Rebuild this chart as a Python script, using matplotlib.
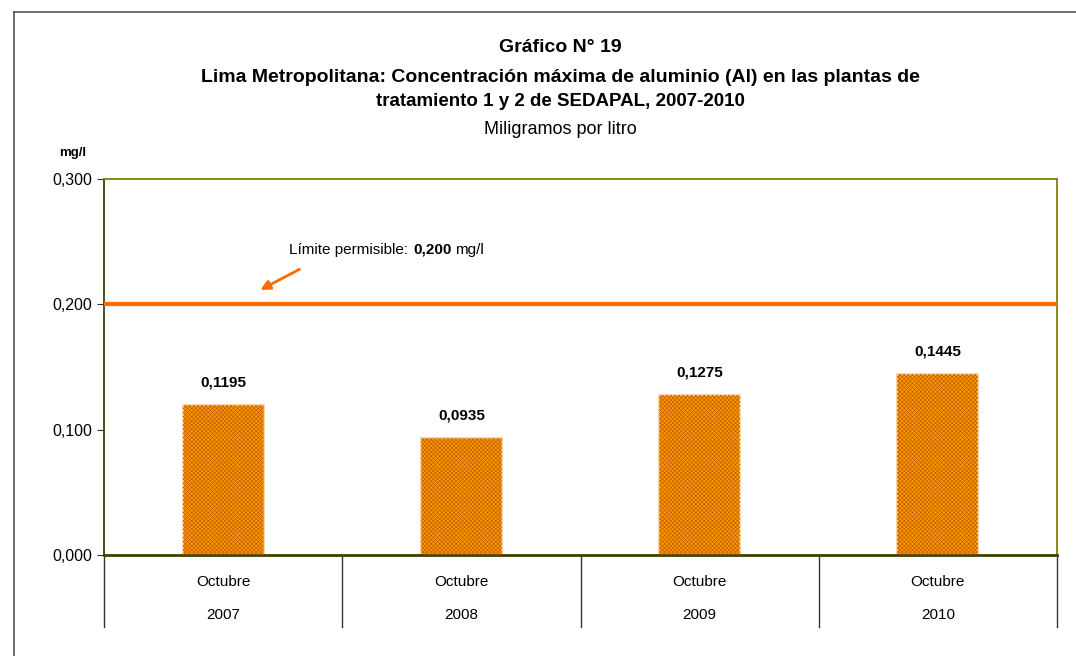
import matplotlib
matplotlib.use("Agg")
import matplotlib.pyplot as plt
from matplotlib.lines import Line2D

# Datos del gráfico
meses = ["Octubre", "Octubre", "Octubre", "Octubre"]
anios = ["2007", "2008", "2009", "2010"]
valores = [0.1195, 0.0935, 0.1275, 0.1445]
etiquetas = ["0,1195", "0,0935", "0,1275", "0,1445"]
limite = 0.200
yticks = [0.0, 0.1, 0.2, 0.3]
ytick_labels = ["0,000", "0,100", "0,200", "0,300"]

plt.rcParams['font.family'] = ['Liberation Sans', 'DejaVu Sans']
plt.rcParams['hatch.linewidth'] = 0.4

W, H = 1076, 656
fig = plt.figure(figsize=(W / 100, H / 100), dpi=100)
ax = fig.add_axes([104 / W, 1 - 555 / H, (1057 - 104) / W, (555 - 179) / H])

x = list(range(len(valores)))
ax.bar(x, valores, width=0.34, color='#FF9400', edgecolor='#FFCC99', linewidth=1.2, zorder=2)
ax.bar(x, valores, width=0.34, fill=False, hatch='xxxxxxxx', edgecolor='#B35C00', linewidth=0, zorder=3)

for xi, v, lab in zip(x, valores, etiquetas):
    ax.annotate(lab, (xi, v), xytext=(0, 11), textcoords='offset points',
                ha='center', va='bottom', fontsize=11, fontweight='bold')

# Línea del límite permisible
ax.axhline(limite, color='#FF6A00', linewidth=3, zorder=4)
ax.annotate('', xy=(0.146, 0.2105), xytext=(0.331, 0.229),
            arrowprops=dict(arrowstyle='-|>', color='#FF6A00', lw=2, mutation_scale=14))
yl = 1 - 250 / H
fig.text(289 / W, yl, 'Límite permisible:', fontsize=11, ha='left', va='center')
fig.text(413 / W, yl, '0,200', fontsize=11, fontweight='bold', ha='left', va='center')
fig.text(455 / W, yl, 'mg/l', fontsize=11, ha='left', va='center')

ax.set_xlim(-0.5, len(valores) - 0.5)
ax.set_ylim(0, 0.3)
ax.set_yticks(yticks)
ax.set_yticklabels(ytick_labels, fontsize=11.5)
ax.set_xticks([])
ax.tick_params(axis='y', length=5, color='#333333')

for s in ['top', 'right']:
    ax.spines[s].set_color('#808000')
    ax.spines[s].set_linewidth(1.3)
ax.spines['left'].set_color('#404000')
ax.spines['left'].set_linewidth(1.3)
ax.spines['bottom'].set_color('#404000')
ax.spines['bottom'].set_linewidth(2)

# Ejes de categorías (mes / año)
for i in range(len(valores) + 1):
    ax.plot([i - 0.5, i - 0.5], [0, -0.0574], color='#333333', lw=1, clip_on=False)
for xi, m, a in zip(x, meses, anios):
    ax.text(xi, -0.0212, m, ha='center', va='center', fontsize=11)
    ax.text(xi, -0.0479, a, ha='center', va='center', fontsize=11)

# Títulos
cx = 560 / W
fig.text(cx, 1 - 48 / H, 'Gráfico N° 19', ha='center', va='center', fontsize=14,
         fontweight='bold')
fig.text(cx, 1 - 77 / H,
         'Lima Metropolitana: Concentración máxima de aluminio (Al) en las plantas de',
         ha='center', va='center', fontsize=14, fontweight='bold')
fig.text(cx, 1 - 101 / H, 'tratamiento 1 y 2 de SEDAPAL, 2007-2010', ha='center',
         va='center', fontsize=13.5, fontweight='bold')
fig.text(cx, 1 - 130 / H, 'Miligramos por litro', ha='center', va='center', fontsize=13)
fig.text(73 / W, 1 - 153 / H, 'mg/l', ha='center', va='center', fontsize=9.5, fontweight='bold')

# Marco exterior
fig.add_artist(Line2D([14 / W, 1], [1 - 12 / H, 1 - 12 / H], color='#555555', lw=1.2,
                      transform=fig.transFigure))
fig.add_artist(Line2D([14 / W, 14 / W], [0, 1 - 12 / H], color='#555555', lw=1.2,
                      transform=fig.transFigure))

fig.savefig('out.png', dpi=100)
